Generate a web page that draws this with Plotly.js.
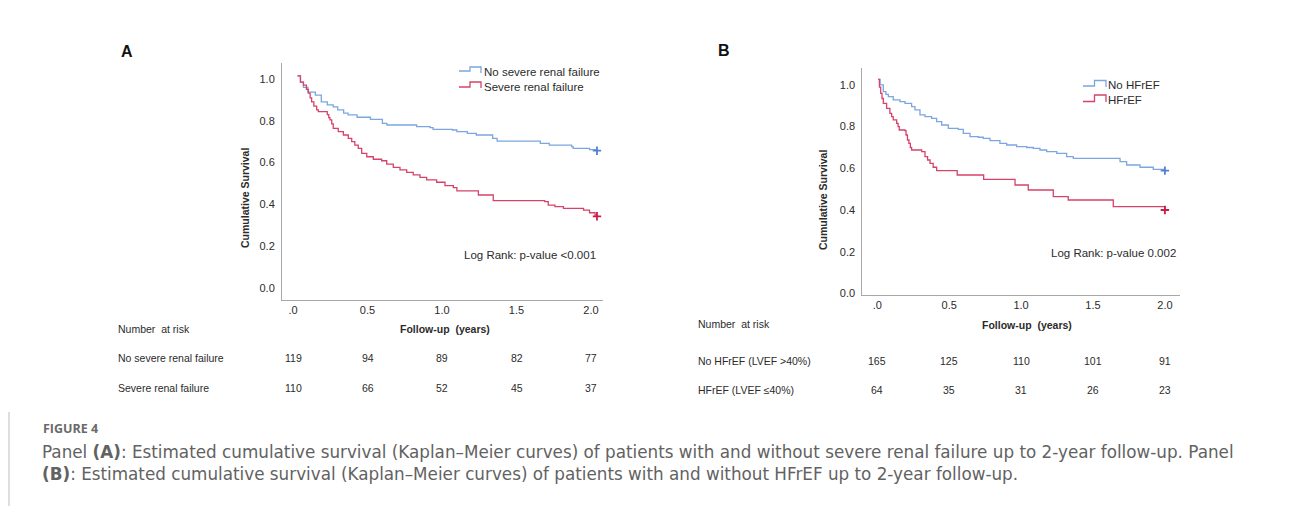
<!DOCTYPE html>
<html>
<head>
<meta charset="utf-8">
<script src="https://cdn.plot.ly/plotly-3.0.1.min.js"></script>
<style>html,body{margin:0;padding:0;background:#fff;}#chart{width:1290px;height:506px;}</style>
</head>
<body>
<div id="chart"></div>
<script>
// ---------- Data ----------
// Panel A: severe renal failure
const timeA_noSevere = [0.03,0.05,0.07,0.10,0.15,0.19,0.23,0.27,0.30,0.34,0.37,0.43,0.52,0.60,0.63,0.83,0.92,0.94,1.07,1.10,1.17,1.23,1.34,1.37,1.66,1.72,1.87,1.88,1.99,2.04];
const survA_noSevere = [1.015,0.985,0.96,0.937,0.923,0.891,0.876,0.867,0.852,0.837,0.828,0.817,0.807,0.788,0.78,0.772,0.767,0.759,0.756,0.748,0.74,0.732,0.716,0.703,0.692,0.684,0.676,0.668,0.662,0.657];
const timeA_severe = [0.03,0.05,0.07,0.09,0.103,0.115,0.125,0.14,0.159,0.17,0.23,0.24,0.248,0.26,0.27,0.304,0.338,0.371,0.394,0.415,0.438,0.461,0.495,0.539,0.595,0.629,0.673,0.718,0.763,0.807,0.852,0.897,0.964,1.02,1.076,1.10,1.244,1.344,1.69,1.713,1.758,1.815,1.95,1.99,2.027,2.04];
const survA_severe = [1.015,0.985,0.971,0.95,0.932,0.91,0.891,0.87,0.852,0.844,0.83,0.815,0.804,0.785,0.764,0.748,0.732,0.716,0.70,0.684,0.668,0.644,0.628,0.616,0.609,0.593,0.577,0.565,0.553,0.541,0.529,0.517,0.506,0.49,0.48,0.465,0.445,0.418,0.413,0.397,0.389,0.381,0.373,0.36,0.349,0.343];
// Panel B: HFrEF
const timeB_noHF = [0.007,0.02,0.042,0.06,0.077,0.111,0.158,0.193,0.239,0.262,0.297,0.332,0.378,0.413,0.448,0.494,0.563,0.598,0.645,0.702,0.737,0.784,0.853,0.90,0.969,1.039,1.085,1.131,1.178,1.248,1.317,1.363,1.688,1.734,1.827,1.919,2.0];
const survB_noHF = [1.027,1.0,0.968,0.955,0.944,0.928,0.92,0.912,0.896,0.88,0.856,0.848,0.84,0.824,0.808,0.792,0.787,0.768,0.752,0.749,0.744,0.733,0.72,0.712,0.704,0.70,0.696,0.688,0.68,0.672,0.656,0.648,0.632,0.616,0.605,0.595,0.589];
const timeB_HF = [0.007,0.015,0.024,0.033,0.042,0.065,0.088,0.10,0.111,0.135,0.145,0.153,0.193,0.20,0.21,0.22,0.23,0.239,0.309,0.332,0.35,0.367,0.389,0.413,0.556,0.74,0.958,1.05,1.224,1.328,1.641,2.0];
const survB_HF = [1.027,0.99,0.96,0.935,0.912,0.888,0.864,0.848,0.832,0.816,0.80,0.784,0.781,0.76,0.736,0.72,0.70,0.688,0.68,0.656,0.64,0.624,0.605,0.589,0.568,0.547,0.52,0.496,0.464,0.448,0.416,0.40];

const xTickVals = [0,0.5,1,1.5,2];
const xTickText = ['.0','0.5','1.0','1.5','2.0'];
const yTickVals = [0,0.2,0.4,0.6,0.8,1.0];
const yTickText = ['0.0','0.2','0.4','0.6','0.8','1.0'];

const riskTimes = [0,0.5,1,1.5,2];
const groupsA = ['No severe renal failure','Severe renal failure'];
const riskA_noSevere = [119,94,89,82,77];
const riskA_severe = [110,66,52,45,37];
const groupsB = ['No HFrEF (LVEF >40%)','HFrEF (LVEF ≤40%)'];
const riskB_noHF = [165,125,110,101,91];
const riskB_HF = [64,35,31,26,23];

const legendA = ['No severe renal failure','Severe renal failure'];
const legendB = ['No HFrEF','HFrEF'];
const logRankA = 'Log Rank: p-value <0.001';
const logRankB = 'Log Rank: p-value 0.002';
const captionTitle = 'FIGURE 4';
const captionLine1 = 'Panel <b>(A)</b>: Estimated cumulative survival (Kaplan–Meier curves) of patients with and without severe renal failure up to 2-year follow-up. Panel';
const captionLine2 = '<b>(B)</b>: Estimated cumulative survival (Kaplan–Meier curves) of patients with and without HFrEF up to 2-year follow-up.';

// ---------- Styling ----------
const W = 1290, H = 506;
const px = x => x / W;
const py = y => 1 - y / H;
const BLUE = '#7ba6df', RED = '#d6426a', BLUE_M = '#4f82d4', RED_M = '#c81e46';
const ARIAL = 'Liberation Sans, Arial, sans-serif';
const CAP = 'DejaVu Sans, sans-serif';
const TXT = '#2b2b2b';

function km(t, s, color, xa, ya) {
  return {x: t, y: s, xaxis: xa, yaxis: ya, type: 'scatter', mode: 'lines',
    line: {color: color, width: 1.3, shape: 'hv'}, hoverinfo: 'skip', showlegend: false};
}
function censor(t, s, color, xa, ya) {
  return {x: [t[t.length-1]], y: [s[s.length-1]], xaxis: xa, yaxis: ya, type: 'scatter', mode: 'markers',
    marker: {symbol: 'cross-thin', size: 6, line: {color: color, width: 1.8}}, hoverinfo: 'skip', showlegend: false};
}

const traces = [
  km(timeA_noSevere, survA_noSevere, BLUE, 'x', 'y'),
  km(timeA_severe, survA_severe, RED, 'x', 'y'),
  censor(timeA_noSevere, survA_noSevere, BLUE_M, 'x', 'y'),
  censor(timeA_severe, survA_severe, RED_M, 'x', 'y'),
  km(timeB_noHF, survB_noHF, BLUE, 'x2', 'y2'),
  km(timeB_HF, survB_HF, RED, 'x2', 'y2'),
  censor(timeB_noHF, survB_noHF, BLUE_M, 'x2', 'y2'),
  censor(timeB_HF, survB_HF, RED_M, 'x2', 'y2')
];

function xax(domain, range) {
  return {domain: domain, range: range, showgrid: false, zeroline: false, showline: true,
    linecolor: '#a8a8a8', linewidth: 1, ticks: '', tickvals: xTickVals, ticktext: xTickText,
    tickfont: {family: ARIAL, size: 11, color: TXT}, fixedrange: true};
}
function yax(domain, range, anchor) {
  return {domain: domain, range: range, anchor: anchor, showgrid: false, zeroline: false, showline: true,
    linecolor: '#a8a8a8', linewidth: 1, ticks: '', tickvals: yTickVals, ticktext: yTickText,
    tickfont: {family: ARIAL, size: 11, color: TXT}, ticklabelstandoff: 4, fixedrange: true};
}

const ann = [];
function txt(text, x, y, opts) {
  ann.push(Object.assign({text: text, x: px(x), y: py(y), xref: 'paper', yref: 'paper', showarrow: false,
    xanchor: 'left', yanchor: 'middle', font: {family: ARIAL, size: 11, color: TXT}}, opts || {}));
}
// panel letters
txt('<b>A</b>', 127, 52, {xanchor: 'center', font: {family: ARIAL, size: 16, color: '#111'}});
txt('<b>B</b>', 724, 51, {xanchor: 'center', font: {family: ARIAL, size: 16, color: '#111'}});
// axis titles
txt('<b>Cumulative Survival</b>', 245, 198, {xanchor: 'center', textangle: -90, font: {family: ARIAL, size: 10.5, color: TXT}});
txt('<b>Cumulative Survival</b>', 823, 200, {xanchor: 'center', textangle: -90, font: {family: ARIAL, size: 10.5, color: TXT}});
txt('<b>Follow-up  (years)</b>', 445, 329, {xanchor: 'center', font: {family: ARIAL, size: 10.5, color: TXT}});
txt('<b>Follow-up  (years)</b>', 1027, 325, {xanchor: 'center', font: {family: ARIAL, size: 10.5, color: TXT}});
// legends
txt(legendA[0], 482, 72, {font: {family: ARIAL, size: 11.5, color: TXT}});
txt(legendA[1], 482, 87, {font: {family: ARIAL, size: 11.5, color: TXT}});
txt(legendB[0], 1106, 85, {font: {family: ARIAL, size: 11.5, color: TXT}});
txt(legendB[1], 1106, 100, {font: {family: ARIAL, size: 11.5, color: TXT}});
// log rank
txt(logRankA, 598, 255, {xanchor: 'right', font: {family: ARIAL, size: 11.5, color: TXT}});
txt(logRankB, 1178, 253, {xanchor: 'right', font: {family: ARIAL, size: 11.5, color: TXT}});
// risk tables
txt('Number  at risk', 116, 329, {font: {family: ARIAL, size: 10.5, color: TXT}});
txt(groupsA[0], 116, 358, {font: {family: ARIAL, size: 10.5, color: TXT}});
txt(groupsA[1], 116, 388, {font: {family: ARIAL, size: 10.5, color: TXT}});
txt('Number  at risk', 696, 324, {font: {family: ARIAL, size: 10.5, color: TXT}});
txt(groupsB[0], 696, 361, {font: {family: ARIAL, size: 10.5, color: TXT}});
txt(groupsB[1], 696, 390, {font: {family: ARIAL, size: 10.5, color: TXT}});
function riskRow(vals, xref, yPix) {
  vals.forEach((v, i) => ann.push({text: String(v), x: riskTimes[i], xref: xref, y: py(yPix), yref: 'paper',
    showarrow: false, xanchor: 'center', yanchor: 'middle', font: {family: ARIAL, size: 10.5, color: TXT}}));
}
riskRow(riskA_noSevere, 'x', 358);
riskRow(riskA_severe, 'x', 388);
riskRow(riskB_noHF, 'x2', 361);
riskRow(riskB_HF, 'x2', 390);
// caption
txt('<b>' + captionTitle + '</b>', 41, 428, {font: {family: 'Open Sans, sans-serif', size: 12.5, color: '#6a6a6a'}});
txt(captionLine1, 40, 452, {font: {family: CAP, size: 16.8, color: '#626262'}});
txt(captionLine2, 40, 474, {font: {family: CAP, size: 16.8, color: '#626262'}});

// legend step symbols + caption rule
function stepPath(x0, x1, yLow, yHigh, yEnd) {
  const xm = (x0 + x1) / 2;
  return `M ${px(x0)} ${py(yLow)} L ${px(xm)} ${py(yLow)} L ${px(xm)} ${py(yHigh)} L ${px(x1)} ${py(yHigh)} L ${px(x1)} ${py(yEnd)}`;
}
const shapes = [
  {type: 'path', xref: 'paper', yref: 'paper', path: stepPath(459, 481, 71, 67, 73), line: {color: BLUE, width: 1.3}},
  {type: 'path', xref: 'paper', yref: 'paper', path: stepPath(459, 481, 87, 82, 88), line: {color: RED, width: 1.3}},
  {type: 'path', xref: 'paper', yref: 'paper', path: stepPath(1083, 1106, 86, 80.5, 87), line: {color: BLUE, width: 1.3}},
  {type: 'path', xref: 'paper', yref: 'paper', path: stepPath(1083, 1106, 101.5, 95, 102), line: {color: RED, width: 1.3}},
  {type: 'line', xref: 'paper', yref: 'paper', x0: px(9), x1: px(9), y0: py(412), y1: py(506), line: {color: '#bdbdbd', width: 1}}
];

const layout = {
  width: W, height: H, margin: {l: 0, r: 0, t: 0, b: 0}, paper_bgcolor: '#fff', plot_bgcolor: '#fff',
  showlegend: false,
  xaxis: xax([282/W, 603/W], [-0.0738, 2.0805]),
  yaxis: yax([1-300/H, 1-63/H], [-0.0574, 1.0766], 'x'),
  xaxis2: xax([862.3/W, 1180/W], [-0.104, 2.105]),
  yaxis2: yax([1-295/H, 1-68.3/H], [-0.008, 1.08], 'x2'),
  annotations: ann, shapes: shapes
};
layout.xaxis.anchor = 'y';
layout.xaxis2.anchor = 'y2';

Plotly.newPlot('chart', traces, layout, {staticPlot: true, displayModeBar: false});
</script>
</body>
</html>
